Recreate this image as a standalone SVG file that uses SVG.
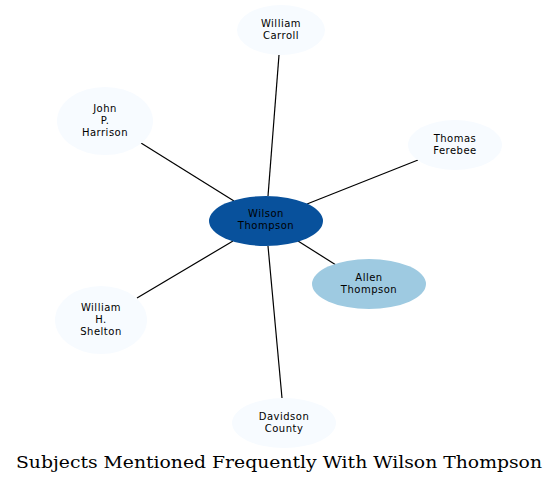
<svg xmlns="http://www.w3.org/2000/svg" width="559" height="485" viewBox="0 0 559 485">
<style>
.n{fill:#f7fbff;stroke:none}
.t{font-family:"DejaVu Sans",sans-serif;font-size:10px;letter-spacing:0.5px;text-anchor:middle;fill:#000}
.e{stroke:#000;stroke-width:1.2;fill:none}
.title{font-family:"DejaVu Serif",serif;font-size:16.5px;text-anchor:middle;fill:#000}
</style>
<rect width="559" height="485" fill="#fff"/>
<g id="edges">
<line class="e" x1="279" y1="55" x2="268" y2="196"/>
<line class="e" x1="141" y1="143" x2="234" y2="201"/>
<line class="e" x1="418" y1="160" x2="307" y2="204"/>
<line class="e" x1="336" y1="265" x2="298" y2="241"/>
<line class="e" x1="137" y1="298" x2="233" y2="241"/>
<line class="e" x1="282" y1="398" x2="268" y2="246"/>
</g>
<g id="wilson_thompson">
<ellipse cx="266" cy="221" rx="57" ry="25" fill="#08519c"/>
<text class="t" x="266" y="217">Wilson</text>
<text class="t" x="266" y="229">Thompson</text>
</g>
<g id="william_carroll">
<ellipse class="n" cx="281" cy="30" rx="44" ry="25"/>
<text class="t" x="281" y="26.5">William</text>
<text class="t" x="281" y="38.5">Carroll</text>
</g>
<g id="john_p_harrison">
<ellipse class="n" cx="105" cy="121" rx="48" ry="34"/>
<text class="t" x="105" y="112">John</text>
<text class="t" x="105" y="124">P.</text>
<text class="t" x="105" y="136">Harrison</text>
</g>
<g id="thomas_ferebee">
<ellipse class="n" cx="455" cy="145" rx="47" ry="25"/>
<text class="t" x="455" y="141.5">Thomas</text>
<text class="t" x="455" y="153.5">Ferebee</text>
</g>
<g id="allen_thompson">
<ellipse cx="369" cy="284" rx="57" ry="25" fill="#9ecae1"/>
<text class="t" x="369" y="280.5">Allen</text>
<text class="t" x="369" y="292.5">Thompson</text>
</g>
<g id="william_h_shelton">
<ellipse class="n" cx="101" cy="320" rx="46" ry="34"/>
<text class="t" x="101" y="311">William</text>
<text class="t" x="101" y="323">H.</text>
<text class="t" x="101" y="335">Shelton</text>
</g>
<g id="davidson_county">
<ellipse class="n" cx="284" cy="423" rx="52" ry="25"/>
<text class="t" x="284" y="419.5">Davidson</text>
<text class="t" x="284" y="431.5">County</text>
</g>
<text class="title" x="279" y="468" textLength="526" lengthAdjust="spacingAndGlyphs">Subjects Mentioned Frequently With Wilson Thompson</text>
</svg>
